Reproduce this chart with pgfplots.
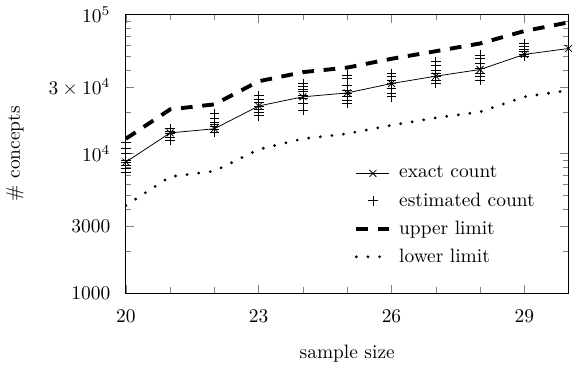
\documentclass[border=0pt]{standalone}
\usepackage{pgfplots}
\pgfplotsset{compat=1.18}
\begin{document}
\begin{tikzpicture}
\begin{semilogyaxis}[
  scale only axis,
  width=228pt, height=143.5pt,
  xmin=20, xmax=30,
  ymin=1000, ymax=100000,
  xtick={20,23,26,29},
  minor xtick={21,22,24,25,27,28,30},
  ytick={1000,3000,10000,30000,100000},
  yticklabels={$1000$,$3000$,$10^4$,$3\times10^4$,$10^5$},
  minor ytick={2000,4000,5000,6000,7000,8000,9000,20000,40000,50000,60000,70000,80000,90000},
  yticklabel style={xshift=-4.5pt},
  xticklabel style={yshift=-5pt},
  xlabel={sample size},
  ylabel={\# concepts},
  xlabel style={yshift=-5pt},
  ylabel style={yshift=6pt},
  legend style={draw=none, fill=none, at={(0.955,0.485)}, anchor=north east, row sep=2pt,
    nodes={inner xsep=4pt}},
  legend cell align=left,
]
\addplot[black, mark=x, mark size=2.5pt] coordinates {
(20,8710) (21,14100) (22,15100) (23,22000) (24,25600) (25,27300) (26,31900) (27,36000) (28,40200) (29,51600) (30,56900)};
\addlegendentry{exact count}
\addplot[black, only marks, mark=+, mark size=2.5pt] coordinates {
(20,12100) (20,11000) (20,10100) (20,8950) (20,8610) (20,8240) (20,7800) (20,7390)
(21,15100) (21,14500) (21,13900) (21,13200) (21,12500)
(22,19400) (22,17900) (22,16900) (22,16200) (22,15600) (22,15000) (22,14300)
(23,26000) (23,24600) (23,23300) (23,22000) (23,20800) (23,19950) (23,18700)
(24,31900) (24,30200) (24,29000) (24,27800) (24,26300) (24,24900) (24,22900) (24,20500)
(25,36600) (25,34600) (25,31000) (25,28500) (25,27000) (25,25600) (25,24200) (25,22900)
(26,37600) (26,35600) (26,33700) (26,31900) (26,29400) (26,27000) (26,25600)
(27,45700) (27,43200) (27,39700) (27,37600) (27,35600) (27,33700) (27,31900)
(28,50900) (28,48200) (28,44400) (28,40900) (28,37600) (28,35600) (28,33700)
(29,61800) (29,58600) (29,56300) (29,53900) (29,51800) (29,50100)};
\addlegendentry{estimated count}
\addplot[black, line width=2pt, dash pattern=on 6pt off 5pt] coordinates {
(20,12800) (21,20800) (22,22600) (23,33100) (24,38500) (25,41500) (26,48000) (27,54400) (28,61800) (29,75900) (30,87600)};
\addlegendentry{upper limit}
\addplot[black, line width=1.6pt, line cap=round, dash pattern=on 0pt off 6pt] coordinates {
(20,4250) (21,6840) (22,7500) (23,10740) (24,12800) (25,13900) (26,16000) (27,18100) (28,19950) (29,25600) (30,28500)};
\addlegendentry{lower limit}
\end{semilogyaxis}
\end{tikzpicture}
\end{document}
